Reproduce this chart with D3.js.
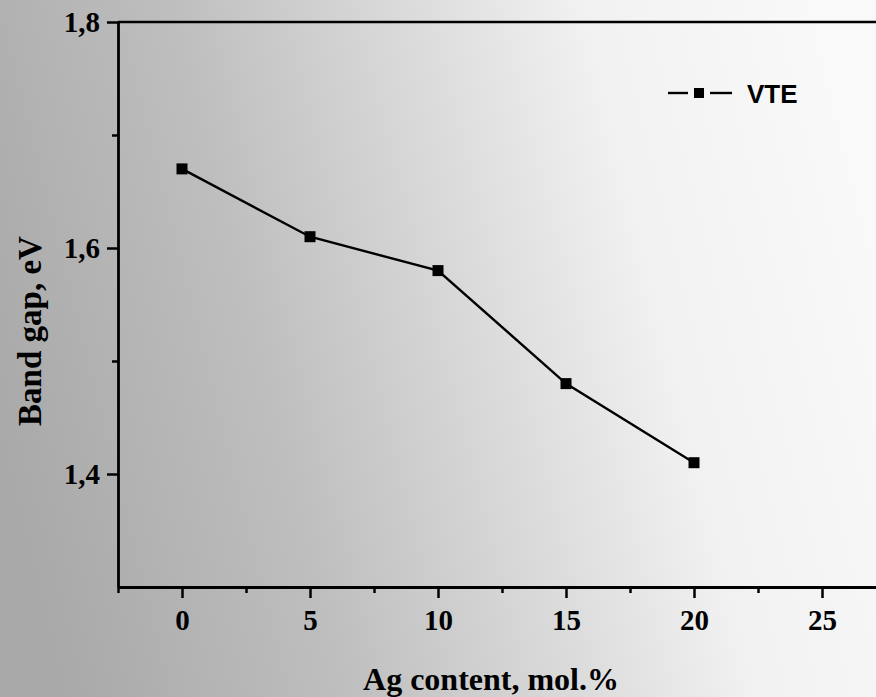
<!DOCTYPE html>
<html>
<head>
<meta charset="utf-8">
<script src="https://cdn.jsdelivr.net/npm/d3@7/dist/d3.min.js"></script>
<style>
  html, body { margin: 0; padding: 0; overflow: hidden; }
  svg { display: block; }
  .tick text { font-family: "Liberation Serif", "Times New Roman", serif; font-weight: bold; font-size: 29px; fill: #000; }
  .axis path, .axis line { stroke: #000; }
</style>
</head>
<body>
<div id="chart"></div>
<script>
// Data
const agContent = [0, 5, 10, 15, 20];
const bandGap = [1.67, 1.61, 1.58, 1.48, 1.41];
const seriesName = "VTE";
const xMajorTicks = [0, 5, 10, 15, 20, 25];
const xMinorTicks = [-2.5, 2.5, 7.5, 12.5, 17.5, 22.5, 27.5];
const yMajorTicks = [1.4, 1.6, 1.8];
const yMinorTicks = [1.5, 1.7];

const width = 876, height = 697;

let svg = d3.select("#chart").append("svg")
    .attr("width", width)
    .attr("height", height);

// background gradient, grey on the left fading to white on the right
let defs = svg.append("defs");
let grad = defs.append("linearGradient")
    .attr("id", "bg")
    .attr("x1", "0").attr("y1", "0.6")
    .attr("x2", "1").attr("y2", "0.4");
grad.append("stop").attr("offset", "0").attr("stop-color", "#a9a9a9");
grad.append("stop").attr("offset", "0.3").attr("stop-color", "#bebebe");
grad.append("stop").attr("offset", "0.55").attr("stop-color", "#dadada");
grad.append("stop").attr("offset", "0.75").attr("stop-color", "#f1f1f1");
grad.append("stop").attr("offset", "1").attr("stop-color", "#f9f9f9");

svg.append("rect")
    .attr("width", width).attr("height", height)
    .attr("fill", "url(#bg)");

let xScale = d3.scaleLinear().domain([-2.5, 30]).range([118, 950]);
let yScale = d3.scaleLinear().domain([1.3, 1.8]).range([587, 22]);

const fmt = d => d3.format(".1f")(d).replace(".", ",");

// top frame line
svg.append("line")
    .attr("x1", xScale(-2.5)).attr("x2", xScale(30))
    .attr("y1", yScale(1.8)).attr("y2", yScale(1.8))
    .attr("stroke", "#000").attr("stroke-width", 2.5);

// x axis minor ticks
svg.append("g")
    .attr("class", "axis")
    .attr("transform", "translate(0," + yScale(1.3) + ")")
    .call(d3.axisBottom(xScale).tickValues(xMinorTicks).tickSize(6).tickSizeOuter(0).tickFormat(""))
    .call(g => g.select(".domain").remove())
    .selectAll("line").attr("stroke-width", 2.5);

// x axis major ticks
svg.append("g")
    .attr("class", "axis")
    .attr("transform", "translate(0," + yScale(1.3) + ")")
    .call(d3.axisBottom(xScale).tickValues(xMajorTicks).tickSize(11).tickSizeOuter(0).tickPadding(11).tickFormat(d3.format("d")))
    .call(g => g.select(".domain").attr("stroke-width", 2.8))
    .selectAll("line").attr("stroke-width", 2.5);

// y axis minor ticks
svg.append("g")
    .attr("class", "axis")
    .attr("transform", "translate(" + xScale(-2.5) + ",0)")
    .call(d3.axisLeft(yScale).tickValues(yMinorTicks).tickSize(6).tickSizeOuter(0).tickFormat(""))
    .call(g => g.select(".domain").remove())
    .selectAll("line").attr("stroke-width", 2.5);

// y axis major ticks
svg.append("g")
    .attr("class", "axis")
    .attr("transform", "translate(" + xScale(-2.5) + ",0)")
    .call(d3.axisLeft(yScale).tickValues(yMajorTicks).tickSize(11).tickSizeOuter(0).tickPadding(7).tickFormat(fmt))
    .call(g => g.select(".domain").attr("stroke-width", 2.8))
    .selectAll("line").attr("stroke-width", 2.5);

// data line
let points = agContent.map((x, i) => ({x: x, y: bandGap[i]}));
let line = d3.line().x(d => xScale(d.x)).y(d => yScale(d.y));

svg.append("path")
    .datum(points)
    .attr("d", line)
    .attr("fill", "none")
    .attr("stroke", "#000")
    .attr("stroke-width", 2.4);

const MARK = 11;
svg.selectAll("rect.mark").data(points).enter().append("rect")
    .attr("class", "mark")
    .attr("x", d => xScale(d.x) - MARK / 2)
    .attr("y", d => yScale(d.y) - MARK / 2)
    .attr("width", MARK)
    .attr("height", MARK)
    .attr("fill", "#000");

// legend
let legend = svg.append("g").attr("transform", "translate(668,93)");
legend.append("line").attr("x1", 0).attr("x2", 20).attr("y1", 0).attr("y2", 0)
    .attr("stroke", "#000").attr("stroke-width", 2.4);
legend.append("line").attr("x1", 42).attr("x2", 64).attr("y1", 0).attr("y2", 0)
    .attr("stroke", "#000").attr("stroke-width", 2.4);
legend.append("rect").attr("x", 26).attr("y", -5).attr("width", 10).attr("height", 10).attr("fill", "#000");
legend.append("text")
    .attr("x", 79).attr("y", 9.5)
    .style("font-family", "'Liberation Sans', Arial, sans-serif")
    .style("font-weight", "bold")
    .style("font-size", "26px")
    .text(seriesName);

// axis titles
svg.append("text")
    .attr("x", 491).attr("y", 690)
    .attr("text-anchor", "middle")
    .style("font-family", "'Liberation Serif', 'Times New Roman', serif")
    .style("font-weight", "bold")
    .style("font-size", "32px")
    .text("Ag content, mol.%");

svg.append("text")
    .attr("transform", "translate(41,331) rotate(-90)")
    .attr("text-anchor", "middle")
    .style("font-family", "'Liberation Serif', 'Times New Roman', serif")
    .style("font-weight", "bold")
    .style("font-size", "33px")
    .text("Band gap, eV");
</script>
</body>
</html>
